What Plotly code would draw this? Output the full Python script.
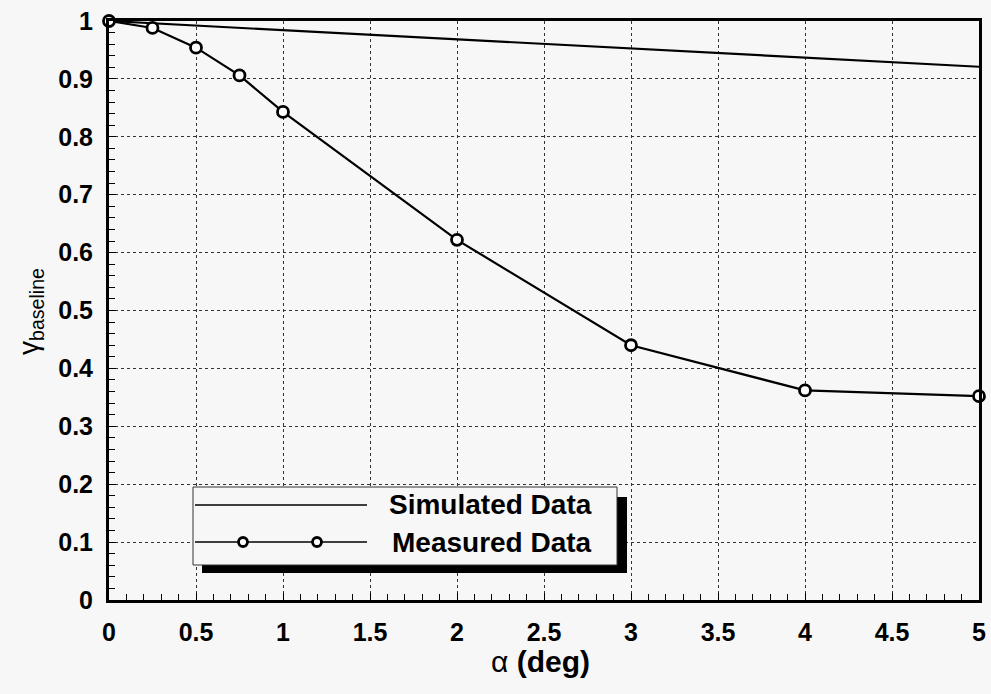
import plotly.graph_objects as go

# Data
alpha_meas = [0, 0.25, 0.5, 0.75, 1, 2, 3, 4, 5]
gamma_meas = [1.0, 0.988, 0.954, 0.906, 0.843, 0.622, 0.440, 0.362, 0.352]
alpha_sim = [0, 1, 2, 3, 4, 5]
gamma_sim = [1.0, 0.984, 0.968, 0.952, 0.936, 0.921]
xticks = [0, 0.5, 1, 1.5, 2, 2.5, 3, 3.5, 4, 4.5, 5]
xticklabels = ["0", "0.5", "1", "1.5", "2", "2.5", "3", "3.5", "4", "4.5", "5"]
yticks = [0, 0.1, 0.2, 0.3, 0.4, 0.5, 0.6, 0.7, 0.8, 0.9, 1]
yticklabels = ["0", "0.1", "0.2", "0.3", "0.4", "0.5", "0.6", "0.7", "0.8", "0.9", "1"]
legend_names = ["Simulated Data", "Measured Data"]

BG = "#f7f7f7"
FONT = "Liberation Sans, Arial, sans-serif"

fig = go.Figure()
fig.add_trace(go.Scatter(x=alpha_sim, y=gamma_sim, mode="lines",
                         line=dict(color="black", width=2.2), cliponaxis=False,
                         name=legend_names[0]))
fig.add_trace(go.Scatter(x=alpha_meas, y=gamma_meas, mode="lines+markers",
                         line=dict(color="black", width=2.2),
                         marker=dict(size=11, color="white", line=dict(color="black", width=2.8)),
                         cliponaxis=False, name=legend_names[1]))

W, H = 991, 694
L, R, T, B = 109, 12, 21, 94
pw, ph = W - L - R, H - T - B

def px(x):
    return (x - L) / pw

def py(y):
    return (H - B - y) / ph

shapes = []
# legend shadow and box
shapes.append(dict(type="rect", xref="paper", yref="paper",
                   x0=px(202), x1=px(627), y0=py(573), y1=py(497),
                   fillcolor="black", line=dict(width=0), layer="above"))
shapes.append(dict(type="rect", xref="paper", yref="paper",
                   x0=px(193), x1=px(617), y0=py(565), y1=py(487),
                   fillcolor=BG, line=dict(color="#333", width=1), layer="above"))
# legend line samples
for ry in (505, 542):
    shapes.append(dict(type="line", xref="paper", yref="paper",
                       x0=px(195), x1=px(367), y0=py(ry), y1=py(ry),
                       line=dict(color="black", width=1.5), layer="above"))
for mx in (243, 317):
    shapes.append(dict(type="circle", xref="paper", yref="paper",
                       xsizemode="pixel", ysizemode="pixel",
                       xanchor=px(mx), yanchor=py(542),
                       x0=-4.5, x1=4.5, y0=-4.5, y1=4.5,
                       fillcolor="white", line=dict(color="black", width=2.8), layer="above"))

annotations = []
for name, ry in zip(legend_names, (505, 542)):
    annotations.append(dict(xref="paper", yref="paper", x=px(594), y=py(ry),
                            text="<b>%s</b>" % name, showarrow=False,
                            xanchor="right", yanchor="middle",
                            font=dict(family=FONT, size=28, color="black")))
# axis titles
annotations.append(dict(xref="paper", yref="paper", x=px(540), y=py(661),
                        text="α <b>(deg)</b>", showarrow=False,
                        xanchor="center", yanchor="middle",
                        font=dict(family=FONT, size=30, color="black")))
annotations.append(dict(xref="paper", yref="paper", x=px(30), y=py(312),
                        text="γ<sub>baseline</sub>", showarrow=False, textangle=-90,
                        xanchor="center", yanchor="middle",
                        font=dict(family=FONT, size=28, color="black")))

fig.update_layout(
    width=W, height=H,
    margin=dict(l=L, r=R, t=T, b=B, pad=0),
    paper_bgcolor=BG, plot_bgcolor=BG,
    showlegend=False,
    shapes=shapes, annotations=annotations,
    font=dict(family=FONT, color="black"),
)
fig.update_xaxes(range=[0, 5], tickvals=xticks, ticktext=xticklabels,
                 tickfont=dict(family=FONT, size=25, color="black", weight="bold"),
                 showline=True, linecolor="black", linewidth=3, mirror=True,
                 showgrid=True, gridcolor="#333", griddash="dot", gridwidth=1,
                 ticks="inside", ticklen=7, tickcolor="black", tickwidth=1,
                 minor=dict(dtick=0.1, ticks="inside", ticklen=6, tickcolor="black", showgrid=False),
                 zeroline=False, ticklabelstandoff=8, automargin=False)
fig.update_yaxes(range=[0, 1], tickvals=yticks, ticktext=yticklabels,
                 tickfont=dict(family=FONT, size=25, color="black", weight="bold"),
                 showline=True, linecolor="black", linewidth=3, mirror=True,
                 showgrid=True, gridcolor="#333", griddash="dot", gridwidth=1,
                 ticks="inside", ticklen=7, tickcolor="black", tickwidth=1,
                 minor=dict(dtick=0.02, ticks="inside", ticklen=6, tickcolor="black", showgrid=False),
                 zeroline=False, ticklabelstandoff=8, automargin=False)

fig.write_html("out.html", config={"displayModeBar": False},
               post_script="document.body.style.margin='0';document.body.style.overflow='hidden';document.body.style.background='%s';" % BG)
